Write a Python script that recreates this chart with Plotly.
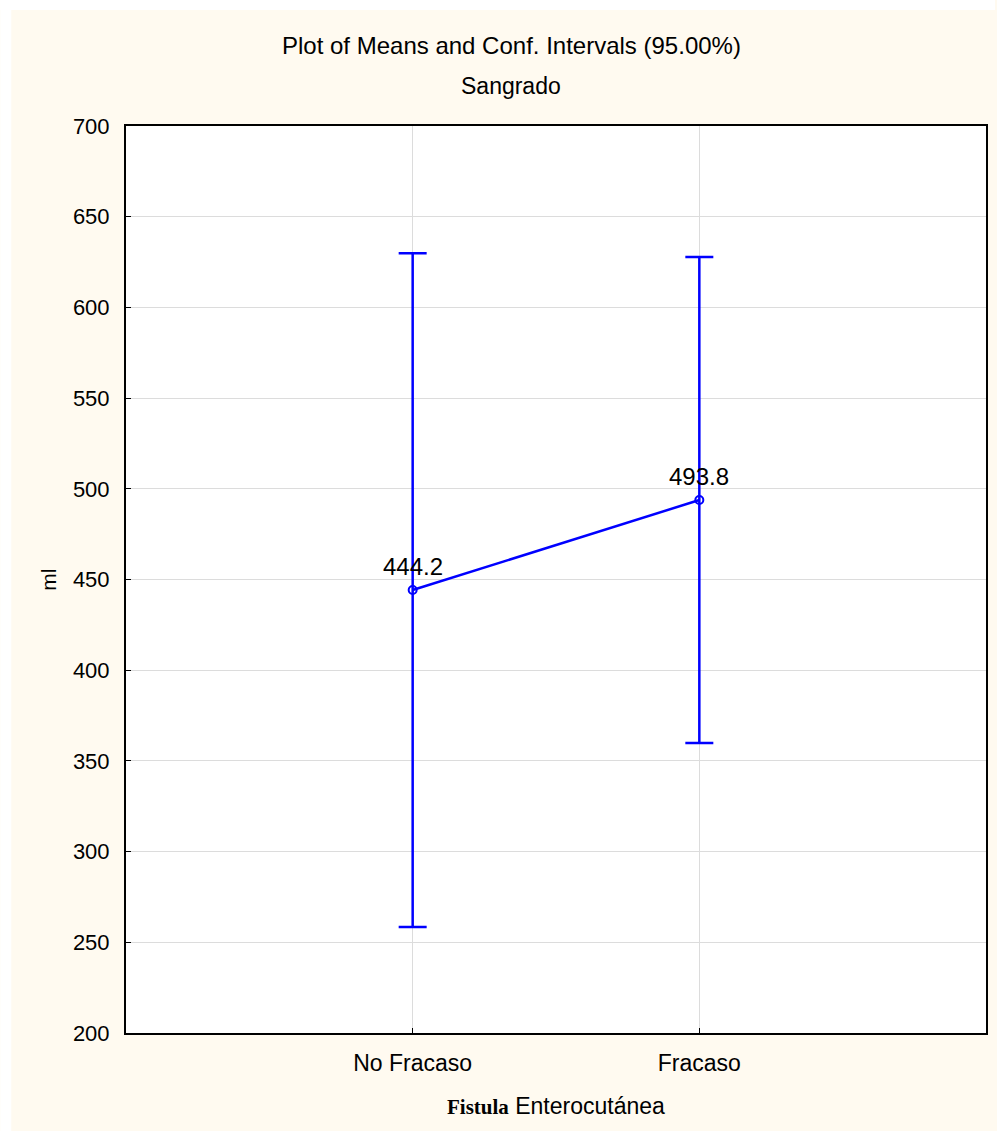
import plotly.graph_objects as go

categories = ["No Fracaso", "Fracaso"]
means = [444.2, 493.8]
ci_lower = [258.5, 359.8]
ci_upper = [629.9, 627.8]
mean_labels = ["444.2", "493.8"]
y_ticks = [200, 250, 300, 350, 400, 450, 500, 550, 600, 650, 700]

err_plus = [u - m for u, m in zip(ci_upper, means)]
err_minus = [m - l for m, l in zip(means, ci_lower)]

W, H = 997, 1131
L, R, T, B = 126, 9, 126, 98
pw, ph = W - L - R, H - T - B

CREAM = "#FFFAF0"
BLUE = "#0000FF"
FONT = "Liberation Sans, Arial, sans-serif"

fig = go.Figure()
fig.add_trace(go.Scatter(
    x=[0, 1], y=means,
    mode="lines+markers",
    line=dict(color=BLUE, width=2.5),
    marker=dict(symbol="circle-open", size=8, color=BLUE, line=dict(width=2, color=BLUE)),
    error_y=dict(type="data", symmetric=False, array=err_plus, arrayminus=err_minus,
                 color=BLUE, thickness=2.5, width=14),
    showlegend=False, hoverinfo="skip",
))

annotations = []
for i, (m, t) in enumerate(zip(means, mean_labels)):
    annotations.append(dict(x=i, y=m, xref="x", yref="y", text=t, showarrow=False,
                            xanchor="center", yanchor="bottom", yshift=8,
                            font=dict(family=FONT, size=24, color="black")))

def py(px):
    return (H - B - px) / ph

def pxx(px):
    return (px - L) / pw

annotations += [
    dict(x=pxx(512), y=py(45), xref="paper", yref="paper", showarrow=False,
         xanchor="center", yanchor="middle",
         text="Plot of Means and Conf. Intervals (95.00%)", font=dict(family=FONT, size=24, color="black")),
    dict(x=pxx(512), y=py(86), xref="paper", yref="paper", showarrow=False,
         xanchor="center", yanchor="middle",
         text="Sangrado", font=dict(family=FONT, size=23, color="black")),
    dict(x=0.5, y=py(1106), xref="paper", yref="paper", showarrow=False,
         xanchor="center", yanchor="middle",
         text="<span style='font-family:Liberation Serif, Times New Roman, serif;font-weight:bold;font-size:21px'>Fistula</span> Enterocutánea",
         font=dict(family=FONT, size=23, color="black")),
    dict(x=pxx(48), y=0.5, xref="paper", yref="paper", showarrow=False, textangle=-90,
         xanchor="center", yanchor="middle",
         text="ml", font=dict(family=FONT, size=21, color="black")),
]

shapes = [
    dict(type="rect", xref="paper", yref="paper", x0=pxx(0), x1=pxx(W), y0=py(0), y1=py(10),
         fillcolor="white", line=dict(width=0), layer="below"),
    dict(type="rect", xref="paper", yref="paper", x0=pxx(0), x1=pxx(11), y0=py(0), y1=py(H),
         fillcolor="white", line=dict(width=0), layer="below"),
]

fig.update_layout(
    width=W, height=H,
    margin=dict(l=L, r=R, t=T, b=B, pad=0),
    paper_bgcolor=CREAM, plot_bgcolor="white",
    annotations=annotations, shapes=shapes,
    font=dict(family=FONT, size=21, color="black"),
    xaxis=dict(range=[-1, 2], tickmode="array", tickvals=[0, 1], ticktext=categories,
               showgrid=True, gridcolor="#DCDCDC", gridwidth=1,
               showline=True, linecolor="black", linewidth=2, mirror=True,
               ticks="inside", ticklen=5, tickcolor="black", tickwidth=1,
               tickfont=dict(family=FONT, size=23), zeroline=False, ticklabelstandoff=8),
    yaxis=dict(range=[200, 700], tickmode="array", tickvals=y_ticks,
               showgrid=True, gridcolor="#DCDCDC", gridwidth=1,
               showline=True, linecolor="black", linewidth=2, mirror=True,
               ticks="inside", ticklen=5, tickcolor="black", tickwidth=1,
               tickfont=dict(family=FONT, size=22), zeroline=False, ticklabelstandoff=10),
)

fig.write_html("out.html")
